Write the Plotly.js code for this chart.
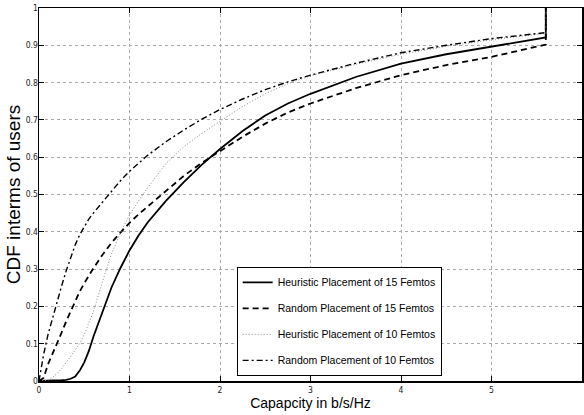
<!DOCTYPE html>
<html>
<head>
<meta charset="utf-8">
<script src="https://cdn.plot.ly/plotly-3.0.1.min.js"></script>
<style>html,body{margin:0;padding:0;background:#fff;}#chart{width:584px;height:415px;}</style>
</head>
<body>
<div id="chart"></div>
<script>
// Capacity grid (b/s/Hz)
const capacity = [0, 0.05, 0.1, 0.15, 0.2, 0.25, 0.3, 0.35, 0.4, 0.45, 0.5, 0.55, 0.6, 0.7, 0.8, 0.9, 1.0, 1.1, 1.2, 1.4, 1.6, 1.8, 2.0, 2.25, 2.5, 2.75, 3.0, 3.5, 4.0, 4.5, 5.0, 5.6, 5.6];

// CDF values per series
const heuristic15 = [0, 0, 0, 0, 0.001, 0.002, 0.003, 0.006, 0.012, 0.028, 0.05, 0.08, 0.118, 0.185, 0.25, 0.303, 0.35, 0.39, 0.425, 0.482, 0.533, 0.58, 0.622, 0.67, 0.712, 0.744, 0.77, 0.815, 0.851, 0.876, 0.897, 0.921, 1];
const random15 = [0, 0.008, 0.045, 0.072, 0.1, 0.13, 0.16, 0.188, 0.215, 0.24, 0.262, 0.283, 0.302, 0.338, 0.37, 0.398, 0.424, 0.447, 0.468, 0.51, 0.55, 0.585, 0.617, 0.655, 0.69, 0.72, 0.744, 0.785, 0.82, 0.847, 0.869, 0.902, 1];
const heuristic10 = [0, 0, 0.002, 0.01, 0.02, 0.033, 0.05, 0.066, 0.085, 0.1, 0.125, 0.155, 0.185, 0.265, 0.34, 0.398, 0.445, 0.483, 0.518, 0.582, 0.628, 0.664, 0.697, 0.736, 0.77, 0.797, 0.818, 0.849, 0.876, 0.897, 0.915, 0.932, 1];
const random10 = [0, 0.07, 0.125, 0.17, 0.21, 0.255, 0.295, 0.33, 0.365, 0.392, 0.415, 0.434, 0.45, 0.48, 0.51, 0.537, 0.562, 0.584, 0.605, 0.641, 0.673, 0.702, 0.728, 0.756, 0.781, 0.802, 0.82, 0.852, 0.88, 0.9, 0.918, 0.934, 1];

const seriesNames = ["Heuristic Placement of 15 Femtos", "Random Placement of 15 Femtos", "Heuristic Placement of 10 Femtos", "Random Placement of 10 Femtos"];

const xTickVals = [0, 1, 2, 3, 4, 5, 6];
const xTickText = ["0", "1", "2", "3", "4", "5", "6"];
const yTickVals = [0, 0.1, 0.2, 0.3, 0.4, 0.5, 0.6, 0.7, 0.8, 0.9, 1];
const yTickText = ["0", "0.1", "0.2", "0.3", "0.4", "0.5", "0.6", "0.7", "0.8", "0.9", "1"];

const FONT = "Liberation Sans, Arial, Helvetica, sans-serif";
const NARROW = "Liberation Sans Narrow, Arial Narrow, DejaVu Sans Condensed, Liberation Sans, Arial, sans-serif";

const traces = [
  {x: capacity, y: heuristic15, name: seriesNames[0], legendgroup: "g1", mode: "lines",
   line: {color: "#000", width: 1.8, dash: "solid"}},
  {x: capacity, y: random15, name: seriesNames[1], legendgroup: "g2", mode: "lines",
   line: {color: "#000", width: 1.8, dash: "6px,4px"}},
  {x: capacity, y: heuristic10, name: seriesNames[2], legendgroup: "g3", mode: "lines",
   line: {color: "#888", width: 1, dash: "1px,2px"}},
  {x: capacity, y: random10, name: seriesNames[3], legendgroup: "g4", mode: "lines",
   line: {color: "#000", width: 1.4, dash: "6px,3px,2px,3px"}}
];

const axisCommon = {
  showline: true, linecolor: "#000", linewidth: 1.5, mirror: "ticks",
  ticks: "inside", ticklen: 5, tickcolor: "#000", tickwidth: 1,
  showgrid: true, gridcolor: "#aaa", gridwidth: 1, griddash: "dot",
  zeroline: false, tickfont: {family: NARROW, size: 8.5, color: "#222"}
};

const layout = {
  width: 584, height: 415,
  margin: {l: 39, r: 2, t: 8, b: 34},
  paper_bgcolor: "#fff", plot_bgcolor: "#fff",
  font: {family: FONT, color: "#000"},
  showlegend: true,
  xaxis: Object.assign({}, axisCommon, {
    range: [0, 6], tickmode: "array", tickvals: xTickVals, ticktext: xTickText,
    title: {text: "Capapcity in b/s/Hz", font: {family: FONT, size: 14, color: "#000"}, standoff: 2}
  }),
  yaxis: Object.assign({}, axisCommon, {
    range: [0, 1], tickmode: "array", tickvals: yTickVals, ticktext: yTickText,
    ticklabelstandoff: -2,
    title: {text: "CDF interms of users", font: {family: FONT, size: 19, color: "#000"}, standoff: 0}
  }),
  legend: {
    x: 0.364, y: 0.306, xanchor: "left", yanchor: "top",
    bgcolor: "#fff", bordercolor: "#000", borderwidth: 1,
    font: {family: FONT, size: 10.5, color: "#000"},
    tracegroupgap: 7, itemwidth: 30
  }
};

Plotly.newPlot("chart", traces, layout, {displayModeBar: false, staticPlot: true});
</script>
</body>
</html>
